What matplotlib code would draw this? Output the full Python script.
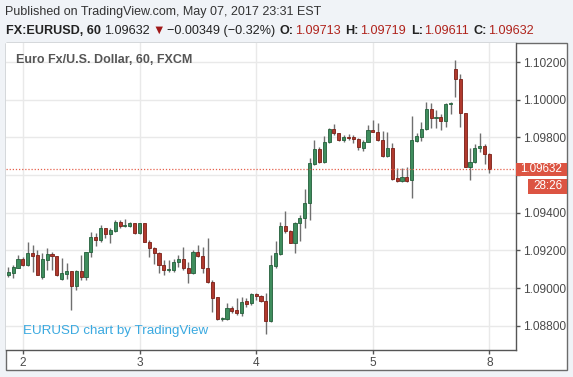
import matplotlib
matplotlib.use("Agg")
import matplotlib.pyplot as plt
from matplotlib.patches import Rectangle
import numpy as np

# ---------------- data (EURUSD, 60 min bars) ----------------
opens = [1.09070, 1.09083, 1.09109, 1.09153, 1.09123, 1.09185, 1.09176, 1.09058, 1.09150, 1.09180,
         1.09171, 1.09049, 1.09075, 1.09093, 1.09014, 1.09093, 1.09061, 1.09190, 1.09270, 1.09256,
         1.09318, 1.09286, 1.09305, 1.09350, 1.09332, 1.09332, 1.09344, 1.09291, 1.09344, 1.09247,
         1.09215, 1.09189, 1.09123, 1.09097, 1.09097, 1.09141, 1.09153, 1.09106, 1.09079, 1.09191,
         1.09173, 1.09106, 1.09035, 1.08955, 1.08835, 1.08835, 1.08894, 1.08885, 1.08867, 1.08932,
         1.08920, 1.08968, 1.08960, 1.08934, 1.08828, 1.09119, 1.09181, 1.09330, 1.09305, 1.09241,
         1.09344, 1.09370, 1.09450, 1.09659, 1.09736, 1.09671, 1.09774, 1.09844, 1.09821, 1.09786,
         1.09804, 1.09800, 1.09789, 1.09742, 1.09777, 1.09839, 1.09830, 1.09786, 1.09703, 1.09742,
         1.09583, 1.09570, 1.09588, 1.09574, 1.09783, 1.09804, 1.09845, 1.09949, 1.09901, 1.09910,
         1.09887, 1.09975, 1.10163, 1.10108, 1.09928, 1.09645, 1.09668, 1.09742, 1.09756, 1.09713]
highs = [1.09114, 1.09123, 1.09176, 1.09164, 1.09247, 1.09229, 1.09203, 1.09189, 1.09212, 1.09194,
         1.09171, 1.09159, 1.09132, 1.09093, 1.09097, 1.09176, 1.09194, 1.09300, 1.09291, 1.09335,
         1.09318, 1.09321, 1.09362, 1.09362, 1.09365, 1.09350, 1.09348, 1.09348, 1.09348, 1.09256,
         1.09220, 1.09194, 1.09150, 1.09150, 1.09153, 1.09176, 1.09221, 1.09141, 1.09203, 1.09229,
         1.09221, 1.09265, 1.09044, 1.08955, 1.08846, 1.08920, 1.08906, 1.08947, 1.08955, 1.08947,
         1.08973, 1.08973, 1.08964, 1.08976, 1.09176, 1.09250, 1.09353, 1.09411, 1.09309, 1.09353,
         1.09388, 1.09524, 1.09689, 1.09786, 1.09747, 1.09807, 1.09848, 1.09871, 1.09825, 1.09812,
         1.09816, 1.09812, 1.09795, 1.09786, 1.09865, 1.09895, 1.09874, 1.09834, 1.09830, 1.09768,
         1.09636, 1.09636, 1.09644, 1.09912, 1.09822, 1.09883, 1.09989, 1.09984, 1.09945, 1.09922,
         1.09984, 1.09989, 1.10210, 1.10134, 1.09928, 1.09742, 1.09763, 1.09822, 1.09763, 1.09719]
lows = [1.09061, 1.09052, 1.09106, 1.09120, 1.09120, 1.09088, 1.09070, 1.09047, 1.09097, 1.09097,
        1.09065, 1.09044, 1.09047, 1.08885, 1.08991, 1.09044, 1.09044, 1.09164, 1.09226, 1.09247,
        1.09265, 1.09238, 1.09300, 1.09318, 1.09327, 1.09327, 1.09288, 1.09288, 1.09243, 1.09167,
        1.09127, 1.09083, 1.09070, 1.09088, 1.09088, 1.09115, 1.09097, 1.09026, 1.09076, 1.09168,
        1.09079, 1.09026, 1.08876, 1.08832, 1.08828, 1.08832, 1.08867, 1.08858, 1.08855, 1.08899,
        1.08911, 1.08938, 1.08928, 1.08757, 1.08822, 1.09105, 1.09176, 1.09291, 1.09238, 1.09188,
        1.09252, 1.09317, 1.09362, 1.09653, 1.09662, 1.09662, 1.09768, 1.09812, 1.09782, 1.09777,
        1.09786, 1.09768, 1.09733, 1.09729, 1.09774, 1.09827, 1.09782, 1.09697, 1.09697, 1.09574,
        1.09565, 1.09565, 1.09565, 1.09478, 1.09774, 1.09781, 1.09839, 1.09848, 1.09848, 1.09839,
        1.09857, 1.09922, 1.10016, 1.09857, 1.09645, 1.09574, 1.09662, 1.09721, 1.09657, 1.09611]
closes = [1.09088, 1.09111, 1.09153, 1.09123, 1.09185, 1.09171, 1.09070, 1.09153, 1.09180, 1.09171,
          1.09070, 1.09079, 1.09091, 1.09014, 1.09093, 1.09061, 1.09190, 1.09270, 1.09256, 1.09318,
          1.09286, 1.09309, 1.09350, 1.09332, 1.09335, 1.09344, 1.09291, 1.09344, 1.09247, 1.09215,
          1.09189, 1.09123, 1.09097, 1.09100, 1.09141, 1.09153, 1.09106, 1.09079, 1.09194, 1.09173,
          1.09106, 1.09035, 1.08947, 1.08835, 1.08840, 1.08894, 1.08879, 1.08867, 1.08929, 1.08917,
          1.08968, 1.08961, 1.08934, 1.08828, 1.09123, 1.09185, 1.09330, 1.09305, 1.09241, 1.09344,
          1.09370, 1.09450, 1.09662, 1.09736, 1.09671, 1.09774, 1.09844, 1.09821, 1.09786, 1.09800,
          1.09798, 1.09789, 1.09747, 1.09777, 1.09842, 1.09830, 1.09786, 1.09703, 1.09742, 1.09579,
          1.09570, 1.09588, 1.09570, 1.09786, 1.09807, 1.09845, 1.09949, 1.09901, 1.09910, 1.09887,
          1.09975, 1.09981, 1.10108, 1.09928, 1.09645, 1.09668, 1.09742, 1.09756, 1.09710, 1.09632]

day_bar_index = [4, 28, 52, 76, 100]
day_labels = ["2", "3", "4", "5", "8"]
price_ticks = [1.08800, 1.09000, 1.09200, 1.09400, 1.09600, 1.09800, 1.10000, 1.10200]
last_price = 1.09632
countdown = "28:26"

# ---------------- figure setup ----------------
W, H = 573, 377
fig = plt.figure(figsize=(W / 100, H / 100), dpi=100)
BG = "#f0f3f7"
fig.patch.set_facecolor(BG)
FAM = ["Liberation Sans", "DejaVu Sans"]
plt.rcParams["font.family"] = FAM

def fx(x):
    return x / W

def fy(y):
    return 1 - y / H

# white chart panel with border (behind the axes)
panel = Rectangle((fx(6), fy(370)), fx(567) - fx(6), fy(43) - fy(370),
                  transform=fig.transFigure, facecolor="white", edgecolor="#6b6b6b",
                  linewidth=1.0, zorder=-10)
fig.patches.append(panel)

ax = fig.add_axes([fx(6), fy(350), fx(516) - fx(6), fy(43) - fy(350)])
ax.set_zorder(1)
ax.set_facecolor("white")
ax.set_xlim(0.53, 105.46)
ax.set_ylim(1.08672, 1.10301)

# grid
for p in price_ticks:
    ax.axhline(p, color="#e9e9e9", linewidth=1.0, zorder=0)
for b in day_bar_index:
    ax.axvline(b, color="#e9e9e9", linewidth=1.0, zorder=0)

# candles
n = len(opens)
idx = np.arange(1, n + 1)
o = np.array(opens); h = np.array(highs); l = np.array(lows); c = np.array(closes)
up = c >= o
green_f, green_e = "#3f8d5d", "#245f3b"
red_f, red_e = "#b0392d", "#7a1f17"
ax.vlines(idx, l, h, color="#6f6f6f", linewidth=1.0, zorder=2)
body_bottom = np.minimum(o, c)
body_h = np.maximum(np.abs(c - o), 0.00004)
ax.bar(idx[up], body_h[up], bottom=body_bottom[up], width=0.64,
       color=green_f, edgecolor=green_e, linewidth=0.6, zorder=3)
ax.bar(idx[~up], body_h[~up], bottom=body_bottom[~up], width=0.64,
       color=red_f, edgecolor=red_e, linewidth=0.6, zorder=3)

# last price dotted line
ax.axhline(last_price, color="#e6604c", linewidth=0.9, linestyle=(0, (1, 1.5)), zorder=4)

# spines and ticks
for s in ["top", "left"]:
    ax.spines[s].set_visible(False)
for s in ["right", "bottom"]:
    ax.spines[s].set_color("#555555")
    ax.spines[s].set_linewidth(1.0)
ax.yaxis.tick_right()
ax.set_yticks(price_ticks)
# the tick label hidden behind the last-price marker is left blank
ax.set_yticklabels(["" if abs(p - last_price) < 0.0005 else f"{p:.5f}" for p in price_ticks])
ax.set_xticks(day_bar_index)
ax.set_xticklabels(day_labels)
ax.tick_params(axis="y", direction="out", length=3, width=1, color="#555555",
               labelsize=8.6, labelcolor="#4a4a4a", pad=2)
ax.tick_params(axis="x", direction="out", length=3, width=1, color="#555555",
               labelsize=8.6, labelcolor="#4a4a4a", pad=2)

# chart title + watermark
aw = fx(516) - fx(6)
ah = fy(43) - fy(350)
ax.text((fx(16) - fx(6)) / aw, (fy(60) - fy(350)) / ah,
        "Euro Fx/U.S. Dollar, 60, FXCM", transform=ax.transAxes,
        fontsize=9.0, fontweight="bold", color="#555555", va="center", ha="left")
ax.text((fx(23) - fx(6)) / aw, (fy(331) - fy(350)) / ah,
        "EURUSD chart by TradingView", transform=ax.transAxes,
        fontsize=9.6, color="#3aa9e0", va="center", ha="left")

# price label boxes on the right axis
fig.canvas.draw()
renderer = fig.canvas.get_renderer()
_, ypix = ax.transData.transform((1, last_price))
ypix_top = H - ypix  # pixel from top
box_h = 13
fig.patches.append(Rectangle((fx(516), fy(ypix_top + box_h / 2)), fx(567) - fx(516), box_h / H,
                             transform=fig.transFigure, facecolor="#dc5442", edgecolor="none", zorder=5))
fig.text(fx(541.5), fy(ypix_top), f"{last_price:.5f}", color="white", fontsize=8.4,
         ha="center", va="center", zorder=6)
cd_top = ypix_top + box_h / 2 + 3
fig.patches.append(Rectangle((fx(528), fy(cd_top + 15)), fx(567) - fx(528), 15 / H,
                             transform=fig.transFigure, facecolor="#dc5442", edgecolor="none", zorder=5))
fig.text(fx(547.5), fy(cd_top + 7.5), countdown, color="white", fontsize=8.4,
         ha="center", va="center", zorder=6)

# header
fig.text(fx(5), fy(12), "Published on TradingView.com, May 07, 2017 23:31 EST",
         fontsize=9.0, color="#333333", ha="left", va="center")

hdr_red = "#b0231c"
parts = [("FX:EURUSD, 60", "#222222", "bold", 4),
         ("1.09632", "#222222", "normal", 2),
         ("\u25BC", "#a01818", "normal", 2),
         ("\u22120.00349 (\u22120.32%)", "#222222", "normal", 5),
         ("O:", "#222222", "bold", 1), ("1.09713", hdr_red, "normal", 5),
         ("H:", "#222222", "bold", 1), ("1.09719", hdr_red, "normal", 5),
         ("L:", "#222222", "bold", 1), ("1.09611", hdr_red, "normal", 5),
         ("C:", "#222222", "bold", 1), ("1.09632", hdr_red, "normal", 0)]
x = 5.5
for s, col, w, gap in parts:
    t = fig.text(fx(x), fy(31), s, fontsize=9.1, color=col, fontweight=w,
                 ha="left", va="center", family=FAM)
    bb = t.get_window_extent(renderer)
    x += bb.width + gap

fig.savefig("out.png", dpi=100, facecolor=BG)
